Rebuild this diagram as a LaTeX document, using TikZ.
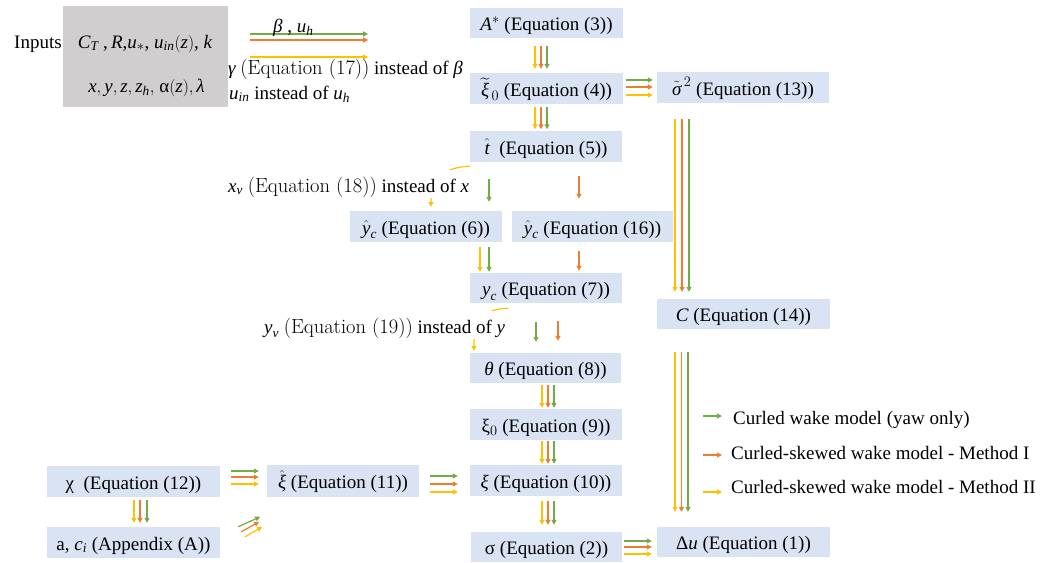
\documentclass[tikz,border=0pt]{standalone}
\usepackage{amsmath}
\usepackage{fontspec}
\setmainfont{Liberation Serif}
\newfontfamily\lmfont{Latin Modern Roman}
\usetikzlibrary{arrows.meta}
\definecolor{boxblue}{HTML}{DAE3F3}
\definecolor{inpgrey}{HTML}{D0CECE}
\definecolor{cgreen}{HTML}{70AD47}
\definecolor{corange}{HTML}{ED7D31}
\definecolor{cyellow}{HTML}{FFC000}
\newcommand{\vi}[1]{\textit{#1}}
\newcommand{\eqlm}[1]{{\lmfont\fontsize{20.5}{22}\selectfont #1}}
\begin{document}
\begin{tikzpicture}[x=1pt,y=-1pt,
  font=\fontsize{19}{22}\selectfont,
  eqbox/.style={fill=boxblue, inner sep=0pt, text height=17pt, text depth=2pt},
  lbl/.style={inner sep=0pt, anchor=base west},
  cover/.style={fill=white, inner xsep=1pt, inner ysep=0pt, text height=22pt, text depth=6pt, anchor=base west},
  arr/.style={line width=1.2pt, -{Triangle[length=5pt,width=5pt]}},
  ga/.style={arr, draw=cgreen},
  oa/.style={arr, draw=corange},
  ya/.style={arr, draw=cyellow}]
\useasboundingbox (0,0) rectangle (1051,562);

% inputs
\node[fill=inpgrey, minimum width=165pt, minimum height=101pt, inner sep=0pt] (inp) at (145.5,56.5) {};
\node[lbl] (inlab) at (14,48) {Inputs};
\node[inner sep=0pt, anchor=base] (in1) at (145,48) {$\vi{C}_{\vi{T}}$ ,\,$\vi{R}$,$\vi{u}_*$, $\vi{u}_{\vi{in}}(\vi{z})$, $\vi{k}$};
\node[inner sep=0pt, anchor=base] (in2) at (146.5,92) {$\vi{x}, \vi{y}, \vi{z}, \vi{z}_{\vi{h}},$ α$(\vi{z}), \vi{λ}$};

\draw[ga] ([xshift=22pt,yshift=22.5pt]inp.east) -- ++(118,0);
\draw[oa] ([xshift=22pt,yshift=16.5pt]inp.east) -- ++(118,0);
\draw[ya] ([xshift=22pt,yshift=-0.5pt]inp.east) -- ++(118,0);
\node[lbl] (betalab) at (273,32) {$\vi{β}$ , $\vi{u}_{\vi{h}}$};
\node[lbl] (gammalab) at (228,74) {$\vi{γ}$ \eqlm{(Equation (17))} instead of $\vi{β}$};
\node[lbl] (uinlab) at (229,99) {$\vi{u}_{\vi{in}}$ instead of $\vi{u}_{\vi{h}}$};

% boxes
\node[eqbox, minimum width=153pt, minimum height=30pt] (A) at (546.5,23) {$\vi{A}^*$ (Equation (3))};
\node[eqbox, minimum width=153pt, minimum height=31pt] (xi0t) at (546.5,88.5) {$\widetilde{\vi{ξ}}_{\,0}$ (Equation (4))};
\node[eqbox, minimum width=172pt, minimum height=31pt] (sig2) at (743,87.5) {$\tilde{\vi{σ}}^{\,2}$ (Equation (13))};
\node[eqbox, minimum width=152pt, minimum height=31pt] (that) at (546,146.5) {$\hat{\vi{t}}$\ \ (Equation (5))};
\node[eqbox, minimum width=152pt, minimum height=31pt] (yc6) at (426,226.5) {$\hat{\vi{y}}_{\vi{c}}$ (Equation (6))};
\node[eqbox, minimum width=161pt, minimum height=31pt] (yc16) at (592.5,226.5) {$\hat{\vi{y}}_{\vi{c}}$ (Equation (16))};
\node[eqbox, minimum width=152pt, minimum height=30pt] (yc) at (546,288) {$\vi{y}_{\vi{c}}$ (Equation (7))};
\node[eqbox, minimum width=173pt, minimum height=30pt] (C) at (743.5,314) {$\vi{C}$ (Equation (14))};
\node[eqbox, minimum width=151pt, minimum height=30pt] (th) at (545.5,368) {$\vi{θ}$ (Equation (8))};
\node[eqbox, minimum width=152pt, minimum height=31pt] (xi0) at (546,424.5) {ξ$_0$ (Equation (9))};
\node[eqbox, minimum width=152pt, minimum height=31pt] (xi) at (546,480.5) {$\vi{ξ}$ (Equation (10))};
\node[eqbox, minimum width=151pt, minimum height=30pt] (sig) at (546.5,547) {σ (Equation (2))};
\node[eqbox, minimum width=173pt, minimum height=30pt] (du) at (743.5,542) {Δ\vi{u} (Equation (1))};
\node[eqbox, minimum width=173pt, minimum height=31pt] (chi) at (133.5,481.5) {χ\ \ (Equation (12))};
\node[eqbox, minimum width=173pt, minimum height=31pt] (ac) at (133.5,542.5) {a, $\vi{c}_{\vi{i}}$ (Appendix (A))};
\node[eqbox, minimum width=152pt, minimum height=32pt] (xih) at (343,481) {$\hat{\vi{ξ}}$ (Equation (11))};

% A -> xi0t
\draw[ya, shorten <=8pt, shorten >=4pt] ([xshift=-11.5pt]A.south) -- ([xshift=-11.5pt]A.south |- xi0t.north);
\draw[oa, shorten <=8pt, shorten >=4pt] ([xshift=-5.5pt]A.south) -- ([xshift=-5.5pt]A.south |- xi0t.north);
\draw[ga, shorten <=8pt, shorten >=4pt] ([xshift=0.5pt]A.south) -- ([xshift=0.5pt]A.south |- xi0t.north);
% xi0t -> that
\draw[ya, shorten <=3pt, shorten >=1.5pt] ([xshift=-11.5pt]xi0t.south) -- ([xshift=-11.5pt]xi0t.south |- that.north);
\draw[oa, shorten <=3pt, shorten >=1.5pt] ([xshift=-5.5pt]xi0t.south) -- ([xshift=-5.5pt]xi0t.south |- that.north);
\draw[ga, shorten <=3pt, shorten >=1.5pt] ([xshift=0.5pt]xi0t.south) -- ([xshift=0.5pt]xi0t.south |- that.north);
% xi0t -> sig2
\draw[ga, shorten <=3pt, shorten >=4pt] ([yshift=8.5pt]xi0t.east) -- ([yshift=8.5pt]xi0t.east -| sig2.west);
\draw[oa, shorten <=3pt, shorten >=4pt] ([yshift=1.5pt]xi0t.east) -- ([yshift=1.5pt]xi0t.east -| sig2.west);
\draw[ya, shorten <=3pt, shorten >=4pt] ([yshift=-6.5pt]xi0t.east) -- ([yshift=-6.5pt]xi0t.east -| sig2.west);
% sig2 -> C
\draw[ya, shorten <=16pt, shorten >=7pt] ([xshift=-68pt]sig2.south) -- ([xshift=-68pt]sig2.south |- C.north);
\draw[oa, shorten <=16pt, shorten >=7pt] ([xshift=-61pt]sig2.south) -- ([xshift=-61pt]sig2.south |- C.north);
\draw[ga, shorten <=16pt, shorten >=7pt] ([xshift=-54pt]sig2.south) -- ([xshift=-54pt]sig2.south |- C.north);
% C -> du
\draw[ya, shorten <=23pt, shorten >=15pt] ([xshift=-68.5pt]C.south) -- ([xshift=-68.5pt]C.south |- du.north);
\draw[oa, shorten <=23pt, shorten >=15pt] ([xshift=-62pt]C.south) -- ([xshift=-62pt]C.south |- du.north);
\draw[ga, shorten <=23pt, shorten >=15pt] ([xshift=-55.5pt]C.south) -- ([xshift=-55.5pt]C.south |- du.north);

% that -> yc6 / yc16
\draw[ya] ([yshift=-4pt]that.south west) .. controls +(-30,1) and +(0,-24) .. ([xshift=5pt,yshift=4pt]yc6.north);
\node[cover] (xvlab) at (227,192) {$\vi{x}_{\vi{v}}$ \eqlm{(Equation (18))} instead of $\vi{x}$};
\draw[ga, shorten <=17pt, shorten >=9pt] ([xshift=-57pt]that.south) -- ([xshift=-57pt]that.south |- yc6.north);
\draw[oa, shorten <=14pt, shorten >=12pt] ([xshift=33pt]that.south) -- ([xshift=33pt]that.south |- yc16.north);
% yc6/yc16 -> yc
\draw[ya, shorten <=5pt, shorten >=1pt] ([xshift=54pt]yc6.south) -- ([xshift=54pt]yc6.south |- yc.north);
\draw[ga, shorten <=5pt, shorten >=1pt] ([xshift=63pt]yc6.south) -- ([xshift=63pt]yc6.south |- yc.north);
\draw[oa, shorten <=9pt, shorten >=2pt] ([xshift=-13.5pt]yc16.south) -- ([xshift=-13.5pt]yc16.south |- yc.north);
% yc -> th
\draw[ya] ([xshift=-38pt,yshift=-5pt]yc.south) .. controls +(-30,1) and +(0,-24) .. ([xshift=-71.5pt,yshift=2pt]th.north);
\node[cover] (yvlab) at (263,333) {$\vi{y}_{\vi{v}}$ \eqlm{(Equation (19))} instead of $\vi{y}$};
\draw[ga, shorten <=19pt, shorten >=11pt] ([xshift=-10pt]yc.south) -- ([xshift=-10pt]yc.south |- th.north);
\draw[oa, shorten <=18pt, shorten >=12pt] ([xshift=12pt]yc.south) -- ([xshift=12pt]yc.south |- th.north);
% th -> xi0
\draw[ya, shorten <=2pt, shorten >=1pt] ([xshift=-3.5pt]th.south) -- ([xshift=-3.5pt]th.south |- xi0.north);
\draw[oa, shorten <=2pt, shorten >=1pt] ([xshift=2.5pt]th.south) -- ([xshift=2.5pt]th.south |- xi0.north);
\draw[ga, shorten <=2pt, shorten >=1pt] ([xshift=8.5pt]th.south) -- ([xshift=8.5pt]th.south |- xi0.north);
% xi0 -> xi
\draw[ya, shorten <=1pt, shorten >=1pt] ([xshift=-4pt]xi0.south) -- ([xshift=-4pt]xi0.south |- xi.north);
\draw[oa, shorten <=1pt, shorten >=1pt] ([xshift=2pt]xi0.south) -- ([xshift=2pt]xi0.south |- xi.north);
\draw[ga, shorten <=1pt, shorten >=1pt] ([xshift=8pt]xi0.south) -- ([xshift=8pt]xi0.south |- xi.north);
% xi -> sig
\draw[ya, shorten <=5pt, shorten >=7pt] ([xshift=-4pt]xi.south) -- ([xshift=-4pt]xi.south |- sig.north);
\draw[oa, shorten <=5pt, shorten >=7pt] ([xshift=2pt]xi.south) -- ([xshift=2pt]xi.south |- sig.north);
\draw[ga, shorten <=5pt, shorten >=7pt] ([xshift=8pt]xi.south) -- ([xshift=8pt]xi.south |- sig.north);
% sig -> du
\draw[ga, shorten <=2pt, shorten >=5pt] ([yshift=6pt]sig.east) -- ([yshift=6pt]sig.east -| du.west);
\draw[oa, shorten <=2pt, shorten >=5pt] ([yshift=0pt]sig.east) -- ([yshift=0pt]sig.east -| du.west);
\draw[ya, shorten <=2pt, shorten >=5pt] ([yshift=-7pt]sig.east) -- ([yshift=-7pt]sig.east -| du.west);
% chi -> ac
\draw[ya, shorten <=3pt, shorten >=4pt] ([xshift=0.5pt]chi.south) -- ([xshift=0.5pt]chi.south |- ac.north);
\draw[oa, shorten <=3pt, shorten >=4pt] ([xshift=6.5pt]chi.south) -- ([xshift=6.5pt]chi.south |- ac.north);
\draw[ga, shorten <=3pt, shorten >=4pt] ([xshift=13.5pt]chi.south) -- ([xshift=13.5pt]chi.south |- ac.north);
% chi -> xih
\draw[ga, shorten <=11pt, shorten >=8pt] ([yshift=10.5pt]chi.east) -- ([yshift=10.5pt]chi.east -| xih.west);
\draw[oa, shorten <=11pt, shorten >=8pt] ([yshift=4.5pt]chi.east) -- ([yshift=4.5pt]chi.east -| xih.west);
\draw[ya, shorten <=11pt, shorten >=8pt] ([yshift=-2.5pt]chi.east) -- ([yshift=-2.5pt]chi.east -| xih.west);
% xih -> xi
\draw[ga, shorten <=11pt, shorten >=12pt] ([yshift=5pt]xih.east) -- ([yshift=5pt]xih.east -| xi.west);
\draw[oa, shorten <=11pt, shorten >=12pt] ([yshift=-3pt]xih.east) -- ([yshift=-3pt]xih.east -| xi.west);
\draw[ya, shorten <=11pt, shorten >=12pt] ([yshift=-11pt]xih.east) -- ([yshift=-11pt]xih.east -| xi.west);
% ac -> xih (short diagonal)
\draw[ga] ([xshift=18pt]ac.north east) -- ++(22,-10);
\draw[oa] ([xshift=21pt,yshift=-5pt]ac.north east) -- ++(18,-10);
\draw[ya] ([xshift=25pt,yshift=-10pt]ac.north east) -- ++(17,-10);

% legend
\node[lbl] (lg1) at (733,424) {Curled wake model (yaw only)};
\node[lbl] (lg2) at (731,459) {Curled-skewed wake model - Method I};
\node[lbl] (lg3) at (731,493) {Curled-skewed wake model - Method II};
\draw[ga] ([xshift=-30pt,yshift=8pt]lg1.base west) -- ++(19,0);
\draw[oa] ([xshift=-28pt,yshift=4pt]lg2.base west) -- ++(19,0);
\draw[ya] ([xshift=-28pt,yshift=1pt]lg3.base west) -- ++(19,0);
\end{tikzpicture}
\end{document}
